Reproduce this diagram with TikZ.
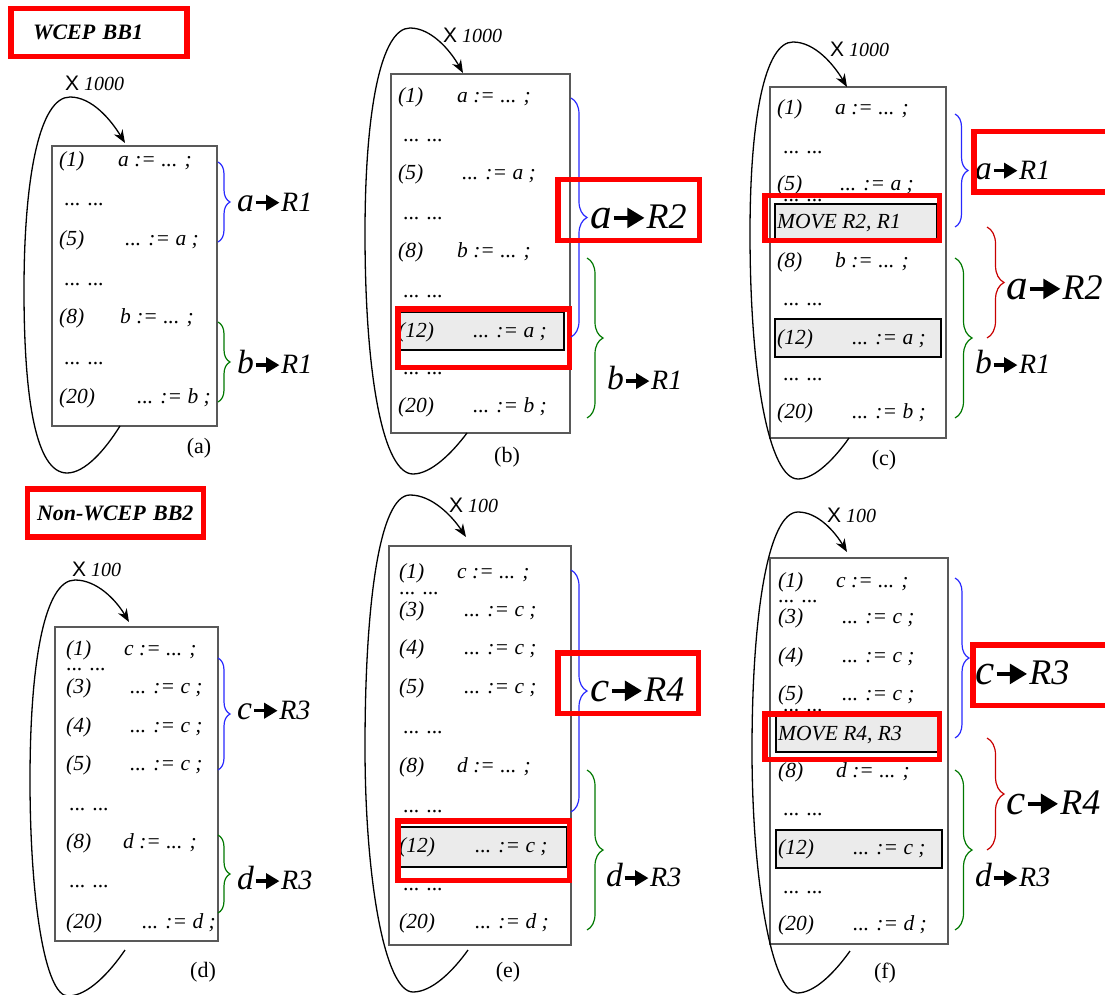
\documentclass[tikz,border=0pt]{standalone}
\usepackage{fontspec}
\setmainfont{Liberation Serif}
\setsansfont{Liberation Sans}
\usetikzlibrary{arrows.meta,decorations.pathreplacing}

\definecolor{bblue}{RGB}{40,40,255}
\definecolor{bgreen}{RGB}{0,120,0}
\definecolor{bred}{RGB}{200,0,0}

\newcommand{\codesize}{\fontsize{21.5}{21.5}\selectfont}
\newcommand{\labsize}{\fontsize{28}{28}\selectfont}
\newcommand{\biglabsize}{\fontsize{36}{36}\selectfont}
\newcommand{\titlesize}{\fontsize{22}{22}\selectfont}
\newcommand{\capsize}{\fontsize{22}{22}\selectfont}
\newcommand{\multsize}{\fontsize{20}{20}\selectfont}
\newcommand{\loopx}{{\sffamily\upshape\fontsize{21}{21}\selectfont X}}
\newcommand{\regto}{\tikz[baseline=-0.3em]\draw[line width=0.12em,-{Triangle[length=0.48em,width=0.54em]}] (0,0) -- (0.85em,0);}
\newcommand{\regmap}[2]{\scalebox{1.2}{#1}\regto#2}
% one numbered line of code: name, y, x of number, number, x of code, code
\newcommand{\stmt}[6]{%
  \node[numtxt] (#1n) at (#3,#2) {#4};
  \node[numtxt] (#1c) at (#5,#2) {#6};}

\tikzset{
  prog/.style={draw=black!65, line width=1.2pt, inner sep=0pt, outer sep=0pt, anchor=north west},
  hilite/.style={draw=black, line width=1.2pt, fill=black!8},
  redbox/.style={draw=red, line width=5.5pt},
  ttl/.style={draw=red, line width=5.5pt, minimum height=48pt, inner ysep=0pt, align=left, font=\titlesize\bfseries\itshape},
  numtxt/.style={anchor=base west, yshift=-5pt, inner sep=0pt, font=\codesize\itshape},
  elide/.style={anchor=base west, yshift=-2pt, inner sep=0pt, font=\codesize},
  movetxt/.style={anchor=base west, yshift=-7pt, inner sep=0pt, font=\codesize\itshape},
  lab/.style={anchor=west, inner sep=0pt, font=\labsize\itshape},
  biglab/.style={anchor=west, inner sep=0pt, font=\biglabsize\itshape},
  capt/.style={inner sep=0pt, font=\capsize},
  mult/.style={anchor=west, inner sep=0pt, font=\multsize\itshape},
  brc/.style={decorate, decoration={brace, amplitude=#1}, line width=1.2pt},
  brc/.default=12pt,
  looparr/.style={line width=1.3pt, -{Stealth[length=13pt, width=10pt]}},
}

\begin{document}
\begin{tikzpicture}[x=1pt, y=-1pt]
  \useasboundingbox (0,0) rectangle (1105,995);

  % (a)
  \node[ttl, inner xsep=22pt, text width=132pt] (ttla) at (99,32.5) {WCEP BB1};
  \node[prog, minimum width=165pt, minimum height=280pt] (boxa) at (52,146) {};
  \stmt{a1}{162}{59}{(1)}{118}{a := ... ;}
  \node[elide] (a2) at (64,203) {... ...};
  \stmt{a5}{240}{59}{(5)}{125}{... := a ;}
  \node[elide] (a6) at (64,283) {... ...};
  \stmt{a8}{318}{59}{(8)}{120}{b := ... ;}
  \node[elide] (a9) at (64,362) {... ...};
  \stmt{a20}{398}{59}{(20)}{137}{... := b ;}
  \draw[brc, bblue] (218,162) -- (218,242);
  \node[lab] (amap1) at (237,202) {\regmap{a}{R1}};
  \draw[brc, bgreen] (218,322) -- (218,402);
  \node[lab] (amap2) at (237,362) {\regmap{b}{R1}};
  \node[capt] (capa) at (199,448) {(a)};
  \node[mult] (xa) at (65,83) {\loopx{} 1000};
  \draw[looparr] ([xshift=68pt]boxa.south west) .. controls (105,450) and (85,473) .. (67,473)
    .. controls (36,473) and (24,400) .. (24,290) .. controls (24,175) and (40,97) .. (70,97)
    .. controls (92,97) and (111,120) .. ([xshift=73pt, yshift=3pt]boxa.north west);

  % (b)
  \node[prog, minimum width=179pt, minimum height=359pt] (boxb) at (391,74) {};
  \draw[hilite] (398,312) rectangle (564,350);
  \stmt{b1}{98}{398}{(1)}{457}{a := ... ;}
  \node[elide] (b2) at (403,140) {... ...};
  \stmt{b5}{175}{398}{(5)}{462}{... := a ;}
  \node[elide] (b6) at (403,217) {... ...};
  \stmt{b8}{252}{398}{(8)}{457}{b := ... ;}
  \node[elide] (b9) at (403,295) {... ...};
  \stmt{b12}{332}{398}{(12)}{473}{... := a ;}
  \node[elide] (b13) at (403,372) {... ...};
  \stmt{b20}{407}{398}{(20)}{473}{... := b ;}
  \draw[redbox] (397.75,308.75) rectangle (569.25,367.25);
  \draw[brc=16pt, bblue] (571,98) -- (571,337);
  \node[biglab] (bmap1) at (590,217) {\regmap{a}{R2}};
  \draw[redbox] (557.75,179.75) rectangle (699.25,240.25);
  \draw[brc=16pt, bgreen] (587,258) -- (587,418);
  \node[lab] (bmap2) at (607,378) {\regmap{b}{R1}};
  \node[capt] (capb) at (507,457) {(b)};
  \node[mult] (xb) at (443,35) {\loopx{} 1000};
  \draw[looparr] ([xshift=76pt]boxb.south west) .. controls (452,453) and (431,474) .. (413,474)
    .. controls (384,474) and (365,380) .. (365,233) .. controls (365,110) and (381,28) .. (410,28)
    .. controls (431,28) and (450,50) .. ([xshift=72pt, yshift=1pt]boxb.north west);

  % (c)
  \node[prog, minimum width=176pt, minimum height=351pt] (boxc) at (770,87) {};
  \stmt{c1}{110}{777}{(1)}{835}{a := ... ;}
  \node[elide] (c2) at (783,152) {... ...};
  \stmt{c5}{185}{777}{(5)}{840}{... := a ;}
  \node[elide] (c6) at (783,199) {... ...};
  \draw[hilite] (775,204) rectangle (937,239);
  \node[movetxt] (cmove) at (777,222) {MOVE R2, R1};
  \stmt{c8}{262}{777}{(8)}{835}{b := ... ;}
  \node[elide] (c9) at (783,303) {... ...};
  \draw[hilite] (775,319) rectangle (941,357);
  \stmt{c12}{339}{777}{(12)}{852}{... := a ;}
  \node[elide] (c13) at (783,378) {... ...};
  \stmt{c20}{413}{777}{(20)}{852}{... := b ;}
  \draw[redbox] (764.75,195.75) rectangle (939.25,240.25);
  \draw[brc=13pt, bblue] (955,114) -- (955,227);
  \node[lab] (cmap1) at (975,170) {\regmap{a}{R1}};
  \draw[redbox] (1110,131.75) -| (973.75,192.25) -- (1110,192.25);
  \draw[brc=17pt, bred] (987,227) -- (987,338);
  \node[biglab] (cmap2) at (1006,288) {\regmap{a}{R2}};
  \draw[brc=17pt, bgreen] (955,258) -- (955,418);
  \node[lab] (cmap3) at (975,362) {\regmap{b}{R1}};
  \node[capt] (capc) at (884,460) {(c)};
  \node[mult] (xc) at (830,49) {\loopx{} 1000};
  \draw[looparr] ([xshift=79pt]boxc.south west) .. controls (835,458) and (815,479) .. (798,479)
    .. controls (770,479) and (750,380) .. (750,233) .. controls (750,118) and (765,42) .. (793,42)
    .. controls (815,42) and (834,65) .. ([xshift=77pt]boxc.north west);

  % (d)
  \node[ttl, inner xsep=9.5pt, text width=157pt] (ttld) at (115.5,513) {Non-WCEP BB2};
  \node[prog, minimum width=163pt, minimum height=314pt] (boxd) at (55,627) {};
  \stmt{d1}{650}{66}{(1)}{124}{c := ... ;}
  \node[elide] (d2) at (66,668) {... ...};
  \stmt{d3}{688}{66}{(3)}{130}{... := c ;}
  \stmt{d4}{727}{66}{(4)}{130}{... := c ;}
  \stmt{d5}{765}{66}{(5)}{130}{... := c ;}
  \node[elide] (d6) at (69,808) {... ...};
  \stmt{d8}{843}{66}{(8)}{123}{d := ... ;}
  \node[elide] (d9) at (69,885) {... ...};
  \stmt{d20}{923}{66}{(20)}{142}{... := d ;}
  \draw[brc, bblue] (218,658) -- (218,770);
  \node[lab] (dmap1) at (237,710) {\regmap{c}{R3}};
  \draw[brc, bgreen] (218,835) -- (218,913);
  \node[lab] (dmap2) at (237,878) {\regmap{d}{R3}};
  \node[capt] (capd) at (203,972) {(d)};
  \node[mult] (xd) at (72,569) {\loopx{} 100};
  \draw[looparr] ([xshift=70pt, yshift=-9pt]boxd.south west) .. controls (110,972) and (88,996) .. (68,996)
    .. controls (45,996) and (30,900) .. (30,780) .. controls (30,660) and (45,580) .. (75,580)
    .. controls (97,580) and (116,600) .. ([xshift=74pt, yshift=5pt]boxd.north west);

  % (e)
  \node[prog, minimum width=182pt, minimum height=399pt] (boxe) at (389,546) {};
  \draw[hilite] (398,827) rectangle (567,867);
  \stmt{e1}{573}{399}{(1)}{457}{c := ... ;}
  \node[elide] (e2) at (399,592) {... ...};
  \stmt{e3}{611}{399}{(3)}{464}{... := c ;}
  \stmt{e4}{649}{399}{(4)}{464}{... := c ;}
  \stmt{e5}{688}{399}{(5)}{464}{... := c ;}
  \node[elide] (e6) at (403,731) {... ...};
  \stmt{e8}{767}{399}{(8)}{457}{d := ... ;}
  \node[elide] (e9) at (403,810) {... ...};
  \stmt{e12}{847}{399}{(12)}{475}{... := c ;}
  \node[elide] (e13) at (403,888) {... ...};
  \stmt{e20}{923}{399}{(20)}{475}{... := d ;}
  \draw[redbox] (397.75,820.75) rectangle (569.25,880.25);
  \draw[brc=16pt, bblue] (571,570) -- (571,812);
  \node[biglab] (emap1) at (590,690) {\regmap{c}{R4}};
  \draw[redbox] (557.75,652.75) rectangle (698.25,713.25);
  \draw[brc=16pt, bgreen] (587,770) -- (587,930);
  \node[lab] (emap2) at (606,875) {\regmap{d}{R3}};
  \node[capt] (cape) at (508,972) {(e)};
  \node[mult] (xe) at (449,505) {\loopx{} 100};
  \draw[looparr] ([xshift=79pt, yshift=-5pt]boxe.south west) .. controls (453,971) and (432,992) .. (413,992)
    .. controls (385,992) and (365,880) .. (365,747) .. controls (365,600) and (380,495) .. (410,495)
    .. controls (432,495) and (452,516) .. ([xshift=77pt, yshift=9pt]boxe.north west);

  % (f)
  \node[prog, minimum width=178pt, minimum height=386pt] (boxf) at (770,558) {};
  \stmt{f1}{582}{778}{(1)}{836}{c := ... ;}
  \node[elide] (f2) at (778,600) {... ...};
  \stmt{f3}{618}{778}{(3)}{842}{... := c ;}
  \stmt{f4}{657}{778}{(4)}{842}{... := c ;}
  \stmt{f5}{695}{778}{(5)}{842}{... := c ;}
  \node[elide] (f6) at (783,709) {... ...};
  \draw[hilite] (776,715) rectangle (938,752);
  \node[movetxt] (fmove) at (778,733) {MOVE R4, R3};
  \stmt{f8}{772}{778}{(8)}{836}{d := ... ;}
  \node[elide] (f9) at (783,813) {... ...};
  \draw[hilite] (776,830) rectangle (942,868);
  \stmt{f12}{849}{778}{(12)}{853}{... := c ;}
  \node[elide] (f13) at (783,891) {... ...};
  \stmt{f20}{925}{778}{(20)}{853}{... := d ;}
  \draw[redbox] (764.75,713.75) rectangle (939.25,759.25);
  \draw[brc=14pt, bblue] (955,578) -- (955,738);
  \node[biglab] (fmap1) at (975,673) {\regmap{c}{R3}};
  \draw[redbox] (1110,644.75) -| (972.75,705.25) -- (1110,705.25);
  \draw[brc=17pt, bred] (987,738) -- (987,850);
  \node[biglab] (fmap2) at (1006,803) {\regmap{c}{R4}};
  \draw[brc=17pt, bgreen] (955,770) -- (955,930);
  \node[lab] (fmap3) at (975,875) {\regmap{d}{R3}};
  \node[capt] (capf) at (885,973) {(f)};
  \node[mult] (xf) at (827,515) {\loopx{} 100};
  \draw[looparr] ([xshift=80pt, yshift=-7pt]boxf.south west) .. controls (835,972) and (815,993) .. (797,993)
    .. controls (772,993) and (752,880) .. (752,750) .. controls (752,615) and (768,512) .. (798,512)
    .. controls (818,512) and (835,532) .. ([xshift=77pt, yshift=6pt]boxf.north west);
\end{tikzpicture}
\end{document}
